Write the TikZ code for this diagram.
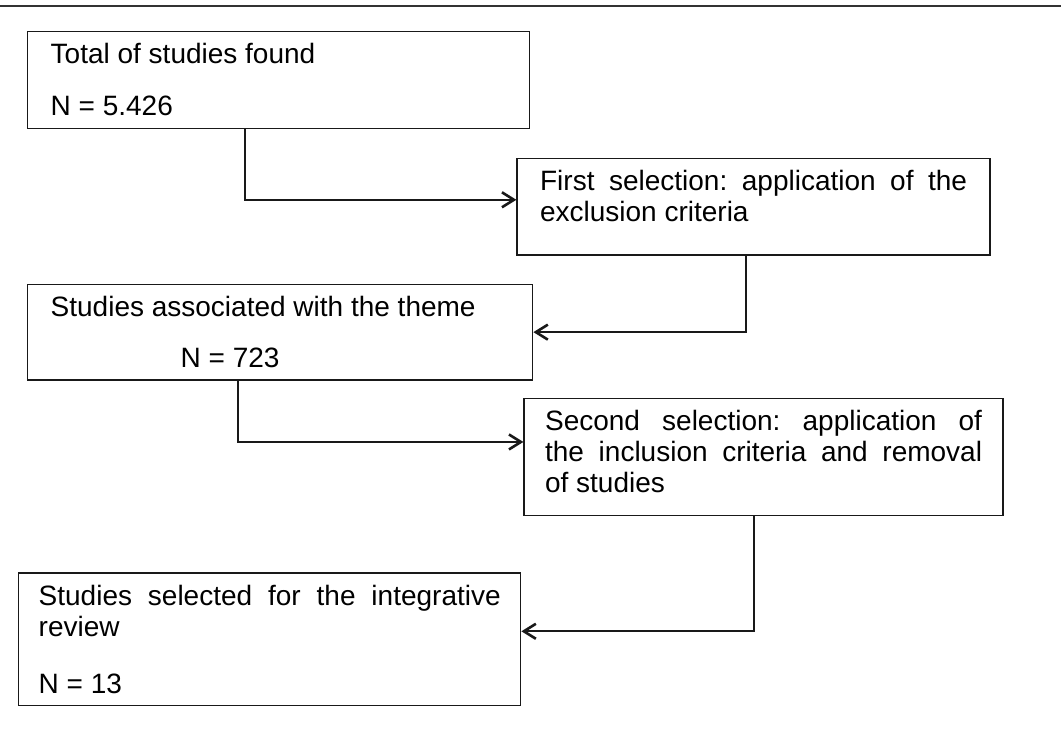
\documentclass[tikz,border=0pt]{standalone}
\usepackage{fontspec}
\setmainfont{Liberation Sans}
\usepackage{tikz}
\usetikzlibrary{positioning,arrows.meta}
\newcommand{\bpad}[1]{\rule[-#1]{0pt}{#1}}
\hyphenpenalty=10000
\exhyphenpenalty=10000
\frenchspacing
\tikzstyle{block} = [rectangle, draw=black!90, line width=1.4pt, align=justify,
    inner xsep=23pt, inner ysep=12pt, font=\fontsize{28}{31}\selectfont]
\tikzset{
  line/.style ={draw, line width=2pt, black!90, -{Straight Barb[length=12pt,width=15pt,line width=2.6pt]}}
}
\begin{document}
\begin{tikzpicture}[x=1pt,y=-1pt]
   \useasboundingbox (0,0) rectangle (1061,743);
   \draw [line width=2pt, black!80] (0,6) -- (1061,6);
   \node [block, text width=456pt, anchor=north west] (total) at (27,31) {Total of studies found\\[21pt]N = 5.426};
   \node [block, text width=427pt, below right=29pt and -14pt of total] (first) {First selection: application of the\linebreak exclusion criteria\bpad{21pt}};
   \node [block, text width=459pt, below left=28pt and -17pt of first] (theme) {Studies associated with the theme\\[20pt]\hspace*{130pt}N = 723};
   \node [block, inner xsep=21pt, text width=437pt, below right=17pt and -10pt of theme] (second) {Second selection: application of\linebreak the inclusion criteria and removal\linebreak of studies\bpad{11pt}};
   \node [block, inner xsep=20pt, text width=462pt, below left=56pt and 2pt of second] (selected) {Studies selected for the integrative\linebreak review\\[26pt]N = 13};
   \path [line] ([xshift=218pt]total.south west) |- ([yshift=7pt]first.west);
   \path [line] ([xshift=230pt]first.south west) |- (theme.east);
   \path [line] ([xshift=211pt]theme.south west) |- ([yshift=15pt]second.west);
   \path [line] ([xshift=231pt]second.south west) |- ([yshift=8pt]selected.east);
\end{tikzpicture}
\end{document}
